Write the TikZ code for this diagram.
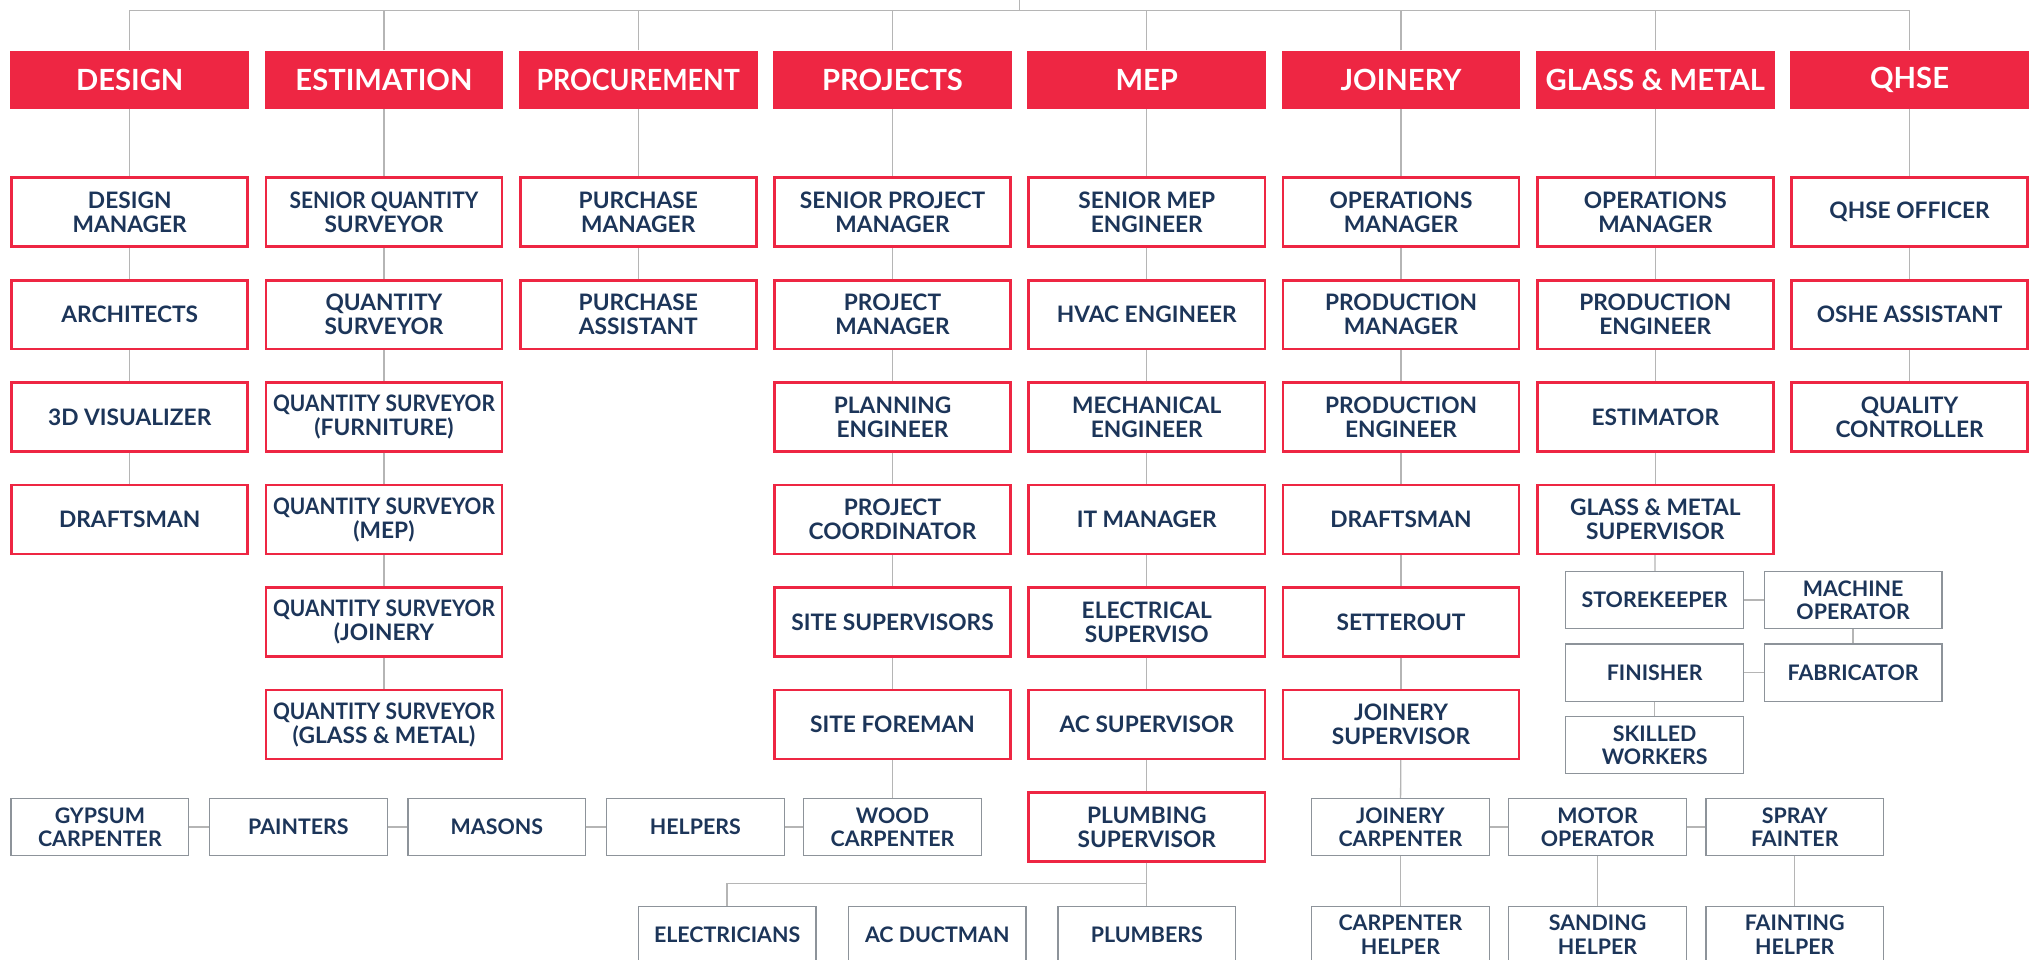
\documentclass[tikz,border=0pt]{standalone}
\usepackage{fontspec}
\setmainfont{Lato}
\definecolor{hdred}{HTML}{EE2643}
\definecolor{navy}{HTML}{1C3559}
\definecolor{boxgray}{HTML}{8D939A}
\definecolor{wire}{HTML}{B5B5B5}
% squeezed text for the long titles
\newcommand{\squeeze}[1]{\scalebox{0.92}[1]{#1}}

\begin{document}
\begin{tikzpicture}[x=1pt,y=-1pt]

\useasboundingbox[fill=white] (0,0) rectangle (1568.7,740);

% node style definition
\tikzstyle{head} = [
	fill=hdred, text=white, inner sep=0pt,
	minimum width=184pt, minimum height=45pt,
	font=\bfseries\fontsize{22.5}{24}\selectfont ];
\tikzstyle{role} = [
	draw=hdred, line width=2pt, fill=white, text=navy, inner sep=0pt,
	minimum width=182pt, minimum height=53pt, align=center,
	font=\bfseries\fontsize{17.5}{18.5}\selectfont ];
\tikzstyle{crew} = [
	draw=boxgray, line width=1pt, fill=white, text=navy, inner sep=0pt,
	minimum width=137pt, minimum height=44pt, align=center,
	font=\bfseries\fontsize{16.5}{18}\selectfont ];
\tikzstyle{link} = [draw=wire, line width=1pt];

% departments
\node[head] (h1) at (100,61.5) {DESIGN};
\node[head] (h2) at (296,61.5) {ESTIMATION};
\node[head] (h3) at (492,61.5) {\squeeze{PROCUREMENT}};
\node[head] (h4) at (688,61.5) {PROJECTS};
\node[head] (h5) at (884,61.5) {MEP};
\node[head] (h6) at (1080,61.5) {JOINERY};
\node[head] (h7) at (1276,61.5) {GLASS \& METAL};
\node[head] (h8) at (1472,61.5) {QHSE};

\coordinate (top) at (786,0);
\coordinate (bus) at (786,8);
\draw[link] (top) -- (bus);
\draw[link] (h1) |- (bus) -| (h8);
\draw[link] (h2) -- (h2 |- bus);
\draw[link] (h3) -- (h3 |- bus);
\draw[link] (h4) -- (h4 |- bus);
\draw[link] (h5) -- (h5 |- bus);
\draw[link] (h6) -- (h6 |- bus);
\draw[link] (h7) -- (h7 |- bus);

% design
\node[role] (d1) at (100,163.5) {DESIGN\\MANAGER};
\node[role] (d2) at (100,242.5) {ARCHITECTS};
\node[role] (d3) at (100,321.5) {3D VISUALIZER};
\node[role] (d4) at (100,400.5) {DRAFTSMAN};
\draw[link] (h1) -- (d1) -- (d2) -- (d3) -- (d4);

% estimation
\node[role] (e1) at (296,163.5) {\squeeze{SENIOR QUANTITY}\\SURVEYOR};
\node[role] (e2) at (296,242.5) {QUANTITY\\SURVEYOR};
\node[role] (e3) at (296,321.5) {\squeeze{QUANTITY SURVEYOR}\\(FURNITURE)};
\node[role] (e4) at (296,400.5) {\squeeze{QUANTITY SURVEYOR}\\(MEP)};
\node[role] (e5) at (296,479.5) {\squeeze{QUANTITY SURVEYOR}\\(JOINERY};
\node[role] (e6) at (296,558.5) {\squeeze{QUANTITY SURVEYOR}\\(GLASS \& METAL)};
\draw[link] (h2) -- (e1) -- (e2) -- (e3) -- (e4) -- (e5) -- (e6);

% procurement
\node[role] (p1) at (492,163.5) {PURCHASE\\MANAGER};
\node[role] (p2) at (492,242.5) {PURCHASE\\ASSISTANT};
\draw[link] (h3) -- (p1) -- (p2);

% projects
\node[role] (pr1) at (688,163.5) {SENIOR PROJECT\\MANAGER};
\node[role] (pr2) at (688,242.5) {PROJECT\\MANAGER};
\node[role] (pr3) at (688,321.5) {PLANNING\\ENGINEER};
\node[role] (pr4) at (688,400.5) {PROJECT\\COORDINATOR};
\node[role] (pr5) at (688,479.5) {SITE SUPERVISORS};
\node[role] (pr6) at (688,558.5) {SITE FOREMAN};
\draw[link] (h4) -- (pr1) -- (pr2) -- (pr3) -- (pr4) -- (pr5) -- (pr6);

% site crew
\node[crew] (c1) at (77,637.5) {GYPSUM\\CARPENTER};
\node[crew] (c2) at (230,637.5) {PAINTERS};
\node[crew] (c3) at (383,637.5) {MASONS};
\node[crew] (c4) at (536,637.5) {HELPERS};
\node[crew] (c5) at (688,637.5) {WOOD\\CARPENTER};
\draw[link] (pr6) -- (c5);
\draw[link] (c1) -- (c2) -- (c3) -- (c4) -- (c5);

% mep
\node[role] (m1) at (884,163.5) {SENIOR MEP\\ENGINEER};
\node[role] (m2) at (884,242.5) {HVAC ENGINEER};
\node[role] (m3) at (884,321.5) {MECHANICAL\\ENGINEER};
\node[role] (m4) at (884,400.5) {IT MANAGER};
\node[role] (m5) at (884,479.5) {ELECTRICAL\\SUPERVISO};
\node[role] (m6) at (884,558.5) {AC SUPERVISOR};
\node[role] (m7) at (884,637.5) {PLUMBING\\SUPERVISOR};
\draw[link] (h5) -- (m1) -- (m2) -- (m3) -- (m4) -- (m5) -- (m6) -- (m7);

\node[crew] (t1) at (560.5,720.5) {ELECTRICIANS};
\node[crew] (t2) at (722.5,720.5) {AC DUCTMAN};
\node[crew] (t3) at (884,720.5) {PLUMBERS};
\draw[link] (m7) -- (t3);
\draw[link] (m7.south) -- ++(0,16) -| (t1);

% joinery
\node[role] (jn1) at (1080,163.5) {OPERATIONS\\MANAGER};
\node[role] (jn2) at (1080,242.5) {PRODUCTION\\MANAGER};
\node[role] (jn3) at (1080,321.5) {PRODUCTION\\ENGINEER};
\node[role] (jn4) at (1080,400.5) {DRAFTSMAN};
\node[role] (jn5) at (1080,479.5) {SETTEROUT};
\node[role] (jn6) at (1080,558.5) {JOINERY\\SUPERVISOR};
\draw[link] (h6) -- (jn1) -- (jn2) -- (jn3) -- (jn4) -- (jn5) -- (jn6);

\node[crew] (w1) at (1079.5,637.5) {JOINERY\\CARPENTER};
\node[crew] (w2) at (1231.5,637.5) {MOTOR\\OPERATOR};
\node[crew] (w3) at (1383.5,637.5) {SPRAY\\FAINTER};
\node[crew] (w4) at (1079.5,720.5) {CARPENTER\\HELPER};
\node[crew] (w5) at (1231.5,720.5) {SANDING\\HELPER};
\node[crew] (w6) at (1383.5,720.5) {FAINTING\\HELPER};
\draw[link] (jn6) -- (w1);
\draw[link] (w1) -- (w2) -- (w3);
\draw[link] (w1) -- (w4);
\draw[link] (w2) -- (w5);
\draw[link] (w3) -- (w6);

% glass and metal
\node[role] (g1) at (1276,163.5) {OPERATIONS\\MANAGER};
\node[role] (g2) at (1276,242.5) {PRODUCTION\\ENGINEER};
\node[role] (g3) at (1276,321.5) {ESTIMATOR};
\node[role] (g4) at (1276,400.5) {GLASS \& METAL\\SUPERVISOR};
\draw[link] (h7) -- (g1) -- (g2) -- (g3) -- (g4);

\node[crew] (s1) at (1275.5,462.5) {STOREKEEPER};
\node[crew] (s2) at (1428.5,462.5) {MACHINE\\OPERATOR};
\node[crew] (s3) at (1275.5,518.5) {FINISHER};
\node[crew] (s4) at (1428.5,518.5) {FABRICATOR};
\node[crew] (s5) at (1275.5,574.5) {SKILLED\\WORKERS};
\draw[link] (g4) -- (s1);
\draw[link] (s1) -- (s2) -- (s4) -- (s3) -- (s5);

% qhse
\node[role] (q1) at (1472,163.5) {QHSE OFFICER};
\node[role] (q2) at (1472,242.5) {OSHE ASSISTANT};
\node[role] (q3) at (1472,321.5) {QUALITY\\CONTROLLER};
\draw[link] (h8) -- (q1) -- (q2) -- (q3);

\end{tikzpicture}
\end{document}
